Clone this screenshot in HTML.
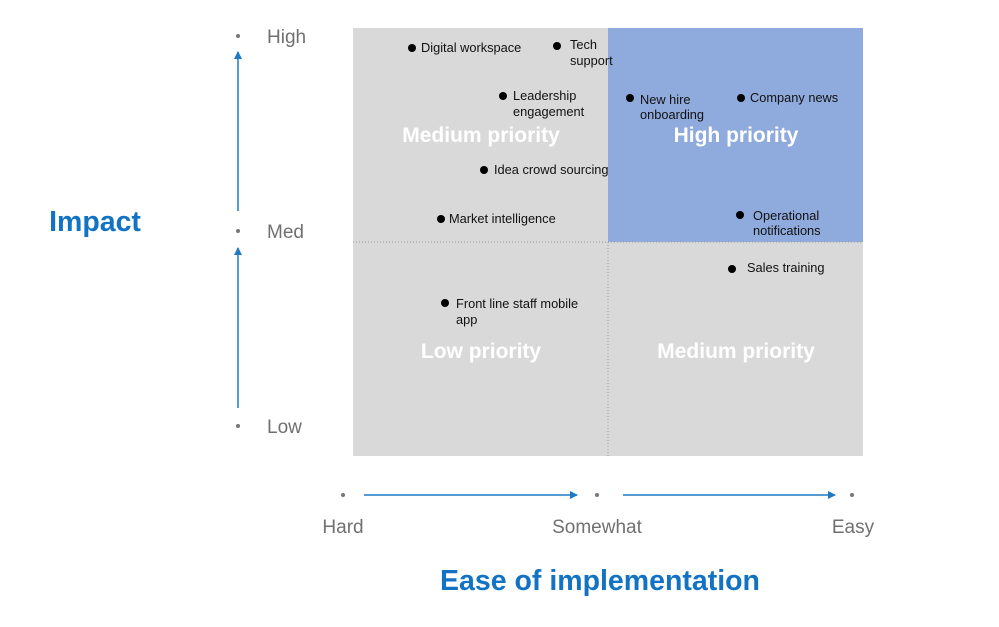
<!DOCTYPE html>
<html><head><meta charset="utf-8"><style>
html,body{margin:0;padding:0;background:#fff;width:999px;height:627px;overflow:hidden}
svg{display:block}
.t{font-family:"Liberation Sans",sans-serif;font-size:12.8px;fill:#111}
.ax{font-family:"Liberation Sans",sans-serif;font-size:19px;fill:#707070}
.q{font-family:"Liberation Sans",sans-serif;font-size:21px;font-weight:bold;fill:#fff}
.big{font-family:"Liberation Sans",sans-serif;font-size:28.5px;font-weight:bold;fill:#1272c4}
</style></head><body>
<svg width="999" height="627" viewBox="0 0 999 627">
<defs><marker id="a" markerWidth="8" markerHeight="8" refX="7" refY="4" orient="auto" markerUnits="userSpaceOnUse"><path d="M0,0 L8,4 L0,8 z" fill="#1f7ac4"/></marker></defs>
<rect x="353" y="28" width="510" height="428" fill="#d9d9d9"/>
<rect x="608" y="28" width="255" height="214" fill="#8faadc"/>
<line x1="353" y1="242" x2="863" y2="242" stroke="#999" stroke-dasharray="1,2"/>
<line x1="608" y1="242" x2="608" y2="456" stroke="#999" stroke-dasharray="1,2"/>
<text class="q" x="481" y="142" text-anchor="middle">Medium priority</text>
<text class="q" x="736" y="142" text-anchor="middle">High priority</text>
<text class="q" x="481" y="358" text-anchor="middle">Low priority</text>
<text class="q" x="736" y="358" text-anchor="middle">Medium priority</text>
<g fill="#000">
<circle cx="412" cy="48" r="4"/><circle cx="557" cy="46" r="4"/><circle cx="503" cy="96" r="4"/>
<circle cx="630" cy="98" r="4"/><circle cx="741" cy="98" r="4"/><circle cx="484" cy="170" r="4"/>
<circle cx="441" cy="219" r="4"/><circle cx="740" cy="215" r="4"/><circle cx="732" cy="269" r="4"/>
<circle cx="445" cy="303" r="4"/></g>
<text class="t" x="421" y="52">Digital workspace</text>
<text class="t" x="570" y="49">Tech</text><text class="t" x="570" y="65">support</text>
<text class="t" x="513" y="100">Leadership</text><text class="t" x="513" y="116">engagement</text>
<text class="t" x="640" y="104">New hire</text><text class="t" x="640" y="119">onboarding</text>
<text class="t" x="750" y="102">Company news</text>
<text class="t" x="494" y="174">Idea crowd sourcing</text>
<text class="t" x="449" y="223">Market intelligence</text>
<text class="t" x="753" y="220">Operational</text><text class="t" x="753" y="235">notifications</text>
<text class="t" x="747" y="272">Sales training</text>
<text class="t" x="456" y="308">Front line staff mobile</text><text class="t" x="456" y="324">app</text>
<g fill="#777"><circle cx="238" cy="36" r="2"/><circle cx="238" cy="231" r="2"/><circle cx="238" cy="426" r="2"/>
<circle cx="343" cy="495" r="2"/><circle cx="597" cy="495" r="2"/><circle cx="852" cy="495" r="2"/></g>
<text class="ax" x="267" y="43">High</text><text class="ax" x="267" y="238">Med</text><text class="ax" x="267" y="433">Low</text>
<text class="ax" x="343" y="533" text-anchor="middle">Hard</text>
<text class="ax" x="597" y="533" text-anchor="middle">Somewhat</text>
<text class="ax" x="853" y="533" text-anchor="middle">Easy</text>
<g stroke="#1f7ac4" stroke-width="1.5">
<line x1="238" y1="211" x2="238" y2="52" marker-end="url(#a)"/>
<line x1="238" y1="408" x2="238" y2="248" marker-end="url(#a)"/>
<line x1="364" y1="495" x2="577" y2="495" marker-end="url(#a)"/>
<line x1="623" y1="495" x2="835" y2="495" marker-end="url(#a)"/></g>
<text class="big" x="95" y="231" text-anchor="middle">Impact</text>
<text class="big" x="600" y="590" text-anchor="middle">Ease of implementation</text>
</svg>
</body></html>
